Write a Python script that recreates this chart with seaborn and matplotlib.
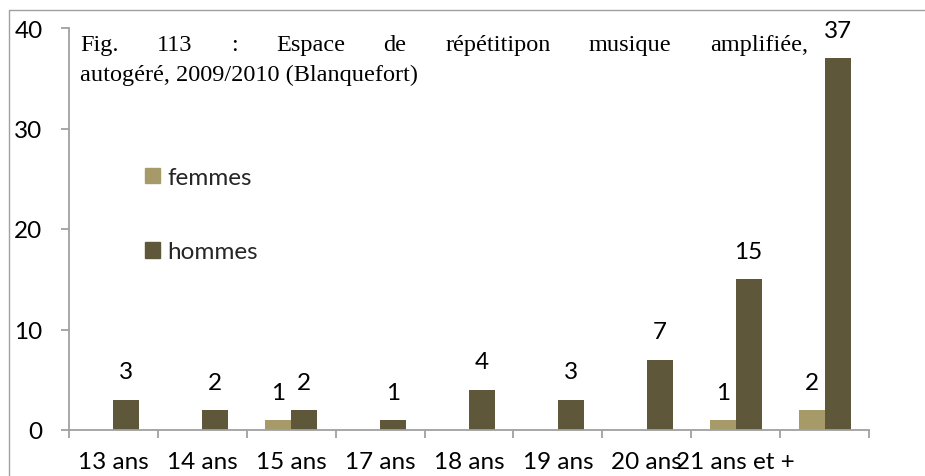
import matplotlib
matplotlib.use("Agg")
import matplotlib.pyplot as plt
from matplotlib.lines import Line2D
from matplotlib.ticker import FixedLocator
import seaborn as sns
import pandas as pd

# Age groups and counts per sex
categories = ["13 ans", "14 ans", "15 ans", "17 ans", "18 ans", "19 ans",
              "20 ans", "21 ans et +", ""]
femmes = [0, 0, 1, 0, 0, 0, 0, 1, 2]
hommes = [3, 2, 2, 1, 4, 3, 7, 15, 37]
series_names = ["femmes", "hommes"]
y_ticks = [0, 10, 20, 30, 40]

title_line1 = "Fig. 113 : Espace de répétitipon musique amplifiée,"
title_line2 = "autogéré, 2009/2010 (Blanquefort)"

colors = ["#A69A68", "#5E573A"]
axis_gray = "#A0A0A0"

df = pd.DataFrame({
    "age": categories * 2,
    "effectif": femmes + hommes,
    "sexe": [series_names[0]] * len(categories) + [series_names[1]] * len(categories),
})

sns.set_theme(style="white")
plt.rcParams["font.family"] = ["Lato", "DejaVu Sans"]

W, H = 925, 477
fig = plt.figure(figsize=(W / 100, H / 100), dpi=100)
ax = fig.add_axes([69 / W, 1 - 431 / H, (869 - 69) / W, (431 - 29) / H])

sns.barplot(data=df, x="age", y="effectif", hue="sexe", order=categories,
            hue_order=series_names, palette=colors, width=0.585, dodge=True,
            saturation=1, linewidth=0, ax=ax, legend=True)

ax.set_xlim(-0.5, len(categories) - 0.5)
ax.set_ylim(0, 40)
ax.set_yticks(y_ticks)
ax.set_xlabel("")
ax.set_ylabel("")

for s in ["top", "right"]:
    ax.spines[s].set_visible(False)
for s in ["left", "bottom"]:
    ax.spines[s].set_color(axis_gray)
    ax.spines[s].set_linewidth(1.3)

ax.tick_params(axis="y", which="major", direction="out", length=5.5, width=1.3,
               color=axis_gray, labelsize=17.5, pad=13.5, labelcolor="black", left=True)
ax.tick_params(axis="x", which="major", length=0, labelsize=17.5, pad=15,
               labelcolor="black")
ax.xaxis.set_minor_locator(FixedLocator([i - 0.5 for i in range(len(categories) + 1)]))
ax.tick_params(axis="x", which="minor", direction="out", length=5.5, width=1.3,
               color=axis_gray, bottom=True)

# Value labels above the non-empty bars
for cont, vals in zip(ax.containers, [femmes, hommes]):
    ax.bar_label(cont, labels=[str(v) if v else "" for v in vals], padding=12.5,
                 fontsize=17.5, color="black")

# Legend placed inside the plot area
handles = [plt.Rectangle((0, 0), 1, 1, color=c) for c in colors]
leg = ax.legend(handles, series_names, loc="upper left", frameon=False,
                bbox_to_anchor=(145 / W, 1 - 168 / H), bbox_transform=fig.transFigure,
                fontsize=17.5, handlelength=0.62, handleheight=0.62,
                handletextpad=0.3, labelspacing=2.2, borderpad=0, borderaxespad=0)

# Title, first line justified between two edges
serif = ["Liberation Serif", "DejaVu Serif"]
title_size = 17.5
x_left, x_right = 80, 808
renderer = fig.canvas.get_renderer()
words = title_line1.split(" ")
texts = [fig.text(0, 1 - 51 / H, w, family=serif, fontsize=title_size, va="baseline",
                  color="black") for w in words]
widths = [t.get_window_extent(renderer).width for t in texts]
gap = (x_right - x_left - sum(widths)) / (len(words) - 1)
xpos = x_left
for t, w in zip(texts, widths):
    t.set_x(xpos / W)
    xpos += w + gap
fig.text(x_left / W, 1 - 81 / H, title_line2, family=serif, fontsize=title_size,
         va="baseline", color="black")

# Outer frame lines
fig.add_artist(Line2D([9 / W, 1], [1 - 11 / H, 1 - 11 / H], transform=fig.transFigure,
                      color=axis_gray, linewidth=1))
fig.add_artist(Line2D([9 / W, 9 / W], [1 - 11 / H, 0], transform=fig.transFigure,
                      color=axis_gray, linewidth=1))

fig.savefig("out.png", dpi=100)
